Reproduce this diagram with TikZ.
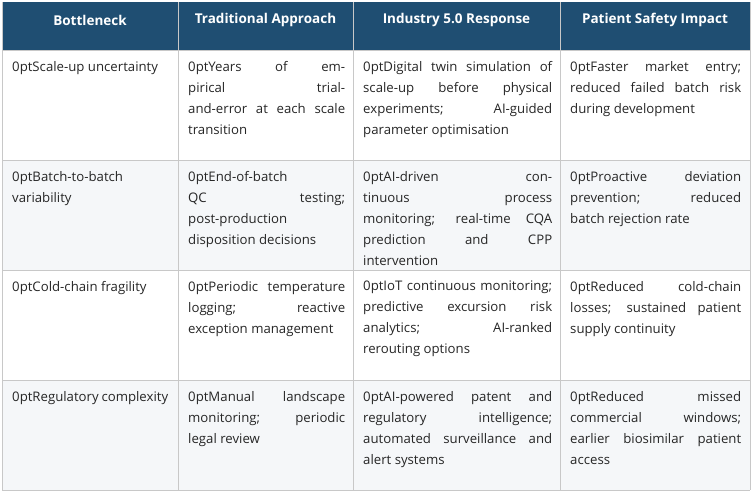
\documentclass[tikz,border=0pt]{standalone}
\usepackage{fontspec}
\setmainfont{Open Sans}
\definecolor{headcolor}{RGB}{31,78,114}
\definecolor{gridcolor}{RGB}{200,200,200}
\definecolor{shadecolor}{RGB}{245,247,249}
\tikzset{
  headtext/.style={text=white,font=\fontsize{13.5}{16}\selectfont\bfseries,anchor=center},
  celltext/.style={anchor=north west,inner sep=0pt,align=justify,text=black!85,
    font=\fontsize{13.2}{21}\selectfont\hyphenpenalty=10000\exhyphenpenalty=10000\relax},
}
\begin{document}
\begin{tikzpicture}[x=1pt,y=-1pt]
\useasboundingbox (0,0) rectangle (756,498);
% header and shaded rows
\fill[headcolor] (2,2) rectangle (750,50);
\fill[shadecolor] (2,160) rectangle (750,270);
\fill[shadecolor] (2,380) rectangle (750,490);
% grid
\foreach \y in {50,160,270,380,490} \draw[gridcolor] (2,\y) -- (750,\y);
\foreach \x in {2,178,353,560,750} \draw[gridcolor] (\x,2) -- (\x,490);
% header
\node[headtext] (hb) at (90,20) {Bottleneck};
\node[headtext] (ht) at (265.5,20) {Traditional Approach};
\node[headtext] (hi) at (456.5,20) {Industry 5.0 Response};
\node[headtext] (hp) at (655,20) {Patient Safety Impact};
% row 1
\node[celltext,text width=156pt] (b1) at (12,61) {Scale-up uncertainty};
\node[celltext,text width=157pt] (t1) at (188,61) {Years of empirical trial-\linebreak and-error at each scale\linebreak transition};
\node[celltext,text width=189pt] (i1) at (363,61) {Digital twin simulation of\linebreak scale-up before physical\linebreak experiments; AI-guided\linebreak parameter optimisation};
\node[celltext,text width=171pt] (p1) at (570,61) {Faster market entry;\linebreak reduced failed batch risk\linebreak during development};
% row 2
\node[celltext,text width=156pt] (b2) at (12,171) {Batch-to-batch\\variability};
\node[celltext,text width=157pt] (t2) at (188,171) {End-of-batch QC testing;\linebreak post-production\\disposition decisions};
\node[celltext,text width=189pt] (i2) at (363,171) {AI-driven continuous process\linebreak monitoring; real-time CQA\linebreak prediction and CPP\linebreak intervention};
\node[celltext,text width=171pt] (p2) at (570,171) {Proactive deviation\linebreak prevention; reduced\linebreak batch rejection rate};
% row 3
\node[celltext,text width=156pt] (b3) at (12,281) {Cold-chain fragility};
\node[celltext,text width=157pt] (t3) at (188,281) {Periodic temperature\linebreak logging; reactive\linebreak exception management};
\node[celltext,text width=189pt] (i3) at (363,281) {IoT continuous monitoring;\linebreak predictive excursion risk\linebreak analytics; AI-ranked\linebreak rerouting options};
\node[celltext,text width=171pt] (p3) at (570,281) {Reduced cold-chain\linebreak losses; sustained patient\linebreak supply continuity};
% row 4
\node[celltext,text width=156pt] (b4) at (12,391) {Regulatory complexity};
\node[celltext,text width=157pt] (t4) at (188,391) {Manual landscape\linebreak monitoring; periodic\linebreak legal review};
\node[celltext,text width=189pt] (i4) at (363,391) {AI-powered patent and\linebreak regulatory intelligence;\linebreak automated surveillance and\linebreak alert systems};
\node[celltext,text width=171pt] (p4) at (570,391) {Reduced missed\linebreak commercial windows;\linebreak earlier biosimilar patient\linebreak access};
\end{tikzpicture}
\end{document}
